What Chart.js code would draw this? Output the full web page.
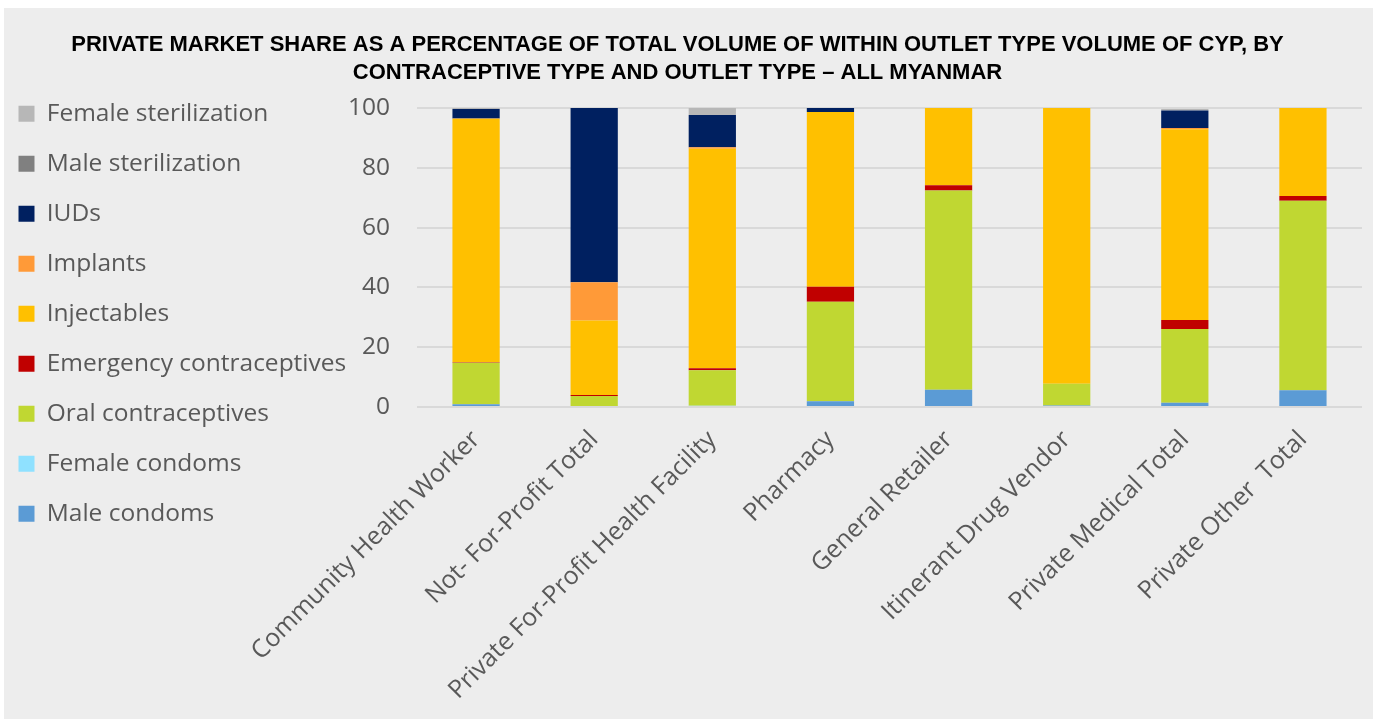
<!DOCTYPE html>
<html>
<head>
<meta charset="utf-8">
<script src="https://cdn.jsdelivr.net/npm/chart.js@4/dist/chart.umd.min.js"></script>
<style>
    html, body { margin: 0; padding: 0; background: #fff; width: 1373px; height: 719px; overflow: hidden; }
    #bg { position: absolute; left: 4px; top: 8px; right: 0; bottom: 0; background: #EDEDED; }
    #wrap { position: absolute; left: -7px; top: 0; width: 1380px; height: 719px; }
</style>
</head>
<body>
<div id="bg"></div>
<div id="wrap"><canvas id="chart"></canvas></div>
<script>
// --- ДАННЫЕ ---
const categories = [
    'Community Health Worker', 'Not- For-Profit Total', 'Private For-Profit Health Facility',
    'Pharmacy', 'General Retailer', 'Itinerant Drug Vendor', 'Private Medical Total', 'Private Other  Total'
];
const maleCondoms   = [0.9, 0, 0, 1.9, 5.8, 0.5, 1.4, 5.6];
const femaleCondoms = [0, 0, 0.4, 0, 0, 0, 0, 0];
const oral          = [13.9, 3.7, 11.9, 33.3, 66.6, 7.3, 24.7, 63.4];
const emergency     = [0.2, 0.3, 0.7, 5.0, 1.8, 0, 3.0, 1.6];
const injectables   = [81.4, 24.9, 73.4, 58.5, 25.8, 92.2, 63.8, 29.4];
const implants      = [0.1, 12.8, 0.5, 0, 0, 0, 0.4, 0];
const iuds          = [3.2, 58.3, 10.8, 1.3, 0, 0, 5.9, 0];
const maleSter      = [0, 0, 0, 0, 0, 0, 0, 0];
const femaleSter    = [0.3, 0, 2.3, 0, 0, 0, 0.5, 0];
const yTicks = [0, 20, 40, 60, 80, 100];

const titleLines = [
    'PRIVATE MARKET SHARE AS A PERCENTAGE OF TOTAL VOLUME OF WITHIN OUTLET TYPE VOLUME OF CYP, BY',
    'CONTRACEPTIVE TYPE AND OUTLET TYPE \u2013 ALL MYANMAR'
];

const series = [
    { label: 'Male condoms', data: maleCondoms, color: '#5B9BD5' },
    { label: 'Female condoms', data: femaleCondoms, color: '#8FE1FF' },
    { label: 'Oral contraceptives', data: oral, color: '#C0D732' },
    { label: 'Emergency contraceptives', data: emergency, color: '#C00000' },
    { label: 'Injectables', data: injectables, color: '#FFC000' },
    { label: 'Implants', data: implants, color: '#FF9A38' },
    { label: 'IUDs', data: iuds, color: '#002060' },
    { label: 'Male sterilization', data: maleSter, color: '#808080' },
    { label: 'Female sterilization', data: femaleSter, color: '#B7B7B7' }
];

const textColor = '#595959';
const fontFamily = "'Open Sans', sans-serif";

new Chart(document.getElementById('chart'), {
    type: 'bar',
    data: {
        labels: categories,
        datasets: series.map(s => ({
            label: s.label,
            data: s.data,
            backgroundColor: s.color,
            borderWidth: 0,
            barPercentage: 0.5,
            categoryPercentage: 0.8
        }))
    },
    options: {
        responsive: true,
        maintainAspectRatio: false,
        animation: false,
        layout: { padding: { left: 0, right: 11, top: 0, bottom: 0 } },
        scales: {
            x: {
                stacked: true,
                grid: { display: false },
                border: { display: false },
                ticks: {
                    color: textColor, font: { family: fontFamily, size: 25 },
                    minRotation: 45, maxRotation: 45, autoSkip: false, padding: 10
                },
                afterFit: s => { s.height = 312; }
            },
            y: {
                stacked: true,
                min: 0, max: 100,
                afterBuildTicks: s => { s.ticks = yTicks.map(v => ({ value: v })); },
                grid: { color: '#D9D9D9', lineWidth: 2, drawTicks: false },
                border: { display: false },
                ticks: { color: textColor, font: { family: fontFamily, size: 24.5 }, padding: 27 },
                afterFit: s => {
                    // ось начинается сразу за легендой, область графика — с x=424 на холсте
                    const lw = s.chart.legend ? s.chart.legend.width : 354;
                    s.width = 424 - lw;
                }
            }
        },
        plugins: {
            tooltip: { enabled: false },
            title: {
                display: true,
                text: titleLines,
                color: '#000',
                font: { family: "'Liberation Sans', sans-serif", size: 22, weight: 'bold', lineHeight: 28 / 22 },
                padding: { top: 31, bottom: 21 }
            },
            legend: {
                position: 'left',
                align: 'start',
                reverse: true,
                maxWidth: 354,
                title: { display: true, text: '', font: { size: 10, lineHeight: 1 }, padding: { top: 0, bottom: 66 } },
                labels: {
                    color: textColor, font: { family: fontFamily, size: 24.5 },
                    boxWidth: 16, boxHeight: 16, padding: 25.5
                }
            }
        }
    }
});
</script>
</body>
</html>
